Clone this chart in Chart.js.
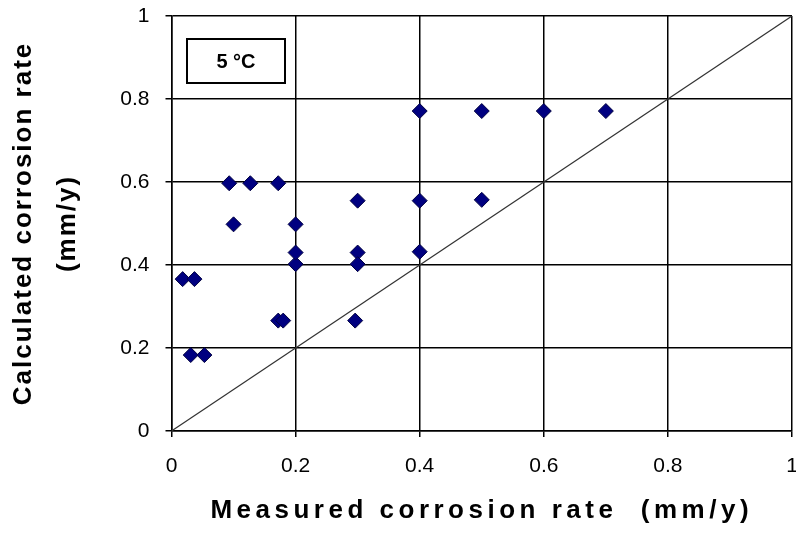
<!DOCTYPE html>
<html>
<head>
<meta charset="utf-8">
<script src="https://cdn.jsdelivr.net/npm/chart.js@4.4.1/dist/chart.umd.min.js"></script>
<style>
  html, body { margin: 0; padding: 0; background: #fff; }
  #wrap { width: 796px; height: 540px; }
</style>
</head>
<body>
<div id="wrap"><canvas id="chart"></canvas></div>
<script>
// Measured vs calculated corrosion rate at 5 °C (mm/y)
const measured = [0.018, 0.037, 0.031, 0.053, 0.172, 0.180, 0.296, 0.200, 0.200, 0.300, 0.300, 0.400,
                  0.100, 0.200, 0.093, 0.127, 0.172, 0.300, 0.400, 0.500, 0.400, 0.500, 0.600, 0.700];
const calculated = [0.366, 0.366, 0.183, 0.183, 0.266, 0.266, 0.266, 0.402, 0.430, 0.430, 0.402, 0.432,
                    0.498, 0.498, 0.597, 0.597, 0.597, 0.555, 0.555, 0.557, 0.771, 0.771, 0.771, 0.771];
const diagonal = [0, 1];
const axisTicks = [0, 0.2, 0.4, 0.6, 0.8, 1];
const boxLabel = '5 °C';

const fontFamily = '"Liberation Sans", Arial, sans-serif';

// Label box in the upper left corner of the plot
const labelBox = {
  id: 'labelBox',
  afterDraw(chart) {
    const ctx = chart.ctx;
    const x = 187, y = 39, w = 98, h = 44;
    ctx.save();
    ctx.fillStyle = '#fff';
    ctx.fillRect(x, y, w, h);
    ctx.strokeStyle = '#000';
    ctx.lineWidth = 2;
    ctx.strokeRect(x, y, w, h);
    ctx.fillStyle = '#000';
    ctx.font = 'bold 20px ' + fontFamily;
    ctx.textAlign = 'center';
    ctx.textBaseline = 'middle';
    ctx.fillText(boxLabel, x + w / 2, y + h / 2 + 1);
    ctx.restore();
  }
};

// Wider letter spacing for the axis titles
function spaceTitle(scale, spacing) {
  if (!scale || scale._spaced) return;
  const orig = scale.drawTitle.bind(scale);
  scale.drawTitle = function () {
    this.ctx.save();
    this.ctx.letterSpacing = spacing;
    orig();
    this.ctx.restore();
  };
  scale._spaced = true;
}
const spacedTitle = {
  id: 'spacedTitle',
  afterUpdate(chart) {
    spaceTitle(chart.scales.x, '4.5px');
    spaceTitle(chart.scales.y, '2px');
  }
};

const ctx = document.getElementById('chart').getContext('2d');
new Chart(ctx, {
  type: 'scatter',
  data: {
    datasets: [
      {
        label: 'Data',
        data: measured.map((m, i) => ({ x: m, y: calculated[i] })),
        pointStyle: 'rectRot',
        pointRadius: 7.5,
        pointHoverRadius: 7.5,
        backgroundColor: '#000080',
        borderColor: '#000040',
        borderWidth: 1
      },
      {
        label: 'y = x',
        type: 'line',
        data: diagonal.map(v => ({ x: v, y: v })),
        borderColor: '#333',
        borderWidth: 1.2,
        pointRadius: 0,
        fill: false
      }
    ]
  },
  options: {
    responsive: true,
    maintainAspectRatio: false,
    animation: false,
    layout: { autoPadding: false, padding: { top: 16, right: 4, left: 0, bottom: 0 } },
    plugins: {
      legend: { display: false },
      tooltip: { enabled: false }
    },
    scales: {
      x: {
        type: 'linear',
        min: 0,
        max: 1,
        afterBuildTicks: s => { s.ticks = axisTicks.map(v => ({ value: v })); },
        afterFit: s => { s.height = 109; s.paddingLeft = 0; s.paddingRight = 0; },
        grid: { color: '#000', lineWidth: 1.5, tickLength: 6 },
        border: { color: '#000', width: 1.5 },
        ticks: {
          color: '#000',
          padding: 17,
          font: { family: fontFamily, size: 21 },
          callback: v => String(v)
        },
        title: {
          display: true,
          text: 'Measured corrosion rate  (mm/y)',
          color: '#000',
          font: { family: fontFamily, size: 26, weight: 'bold' },
          padding: { top: 0, bottom: 14 }
        }
      },
      y: {
        type: 'linear',
        min: 0,
        max: 1,
        afterBuildTicks: s => { s.ticks = axisTicks.map(v => ({ value: v })); },
        afterFit: s => { s.width = 171.5; s.paddingTop = 0; s.paddingBottom = 0; },
        grid: { color: '#000', lineWidth: 1.5, tickLength: 6 },
        border: { color: '#000', width: 1.5 },
        ticks: {
          color: '#000',
          padding: 16,
          font: { family: fontFamily, size: 21 },
          callback: v => String(v)
        },
        title: {
          display: true,
          text: ['Calculated corrosion rate', '(mm/y)'],
          color: '#000',
          font: { family: fontFamily, size: 26, weight: 'bold', lineHeight: 1.7 },
          padding: { top: 2, bottom: 0 }
        }
      }
    }
  },
  plugins: [labelBox, spacedTitle]
});
</script>
</body>
</html>
